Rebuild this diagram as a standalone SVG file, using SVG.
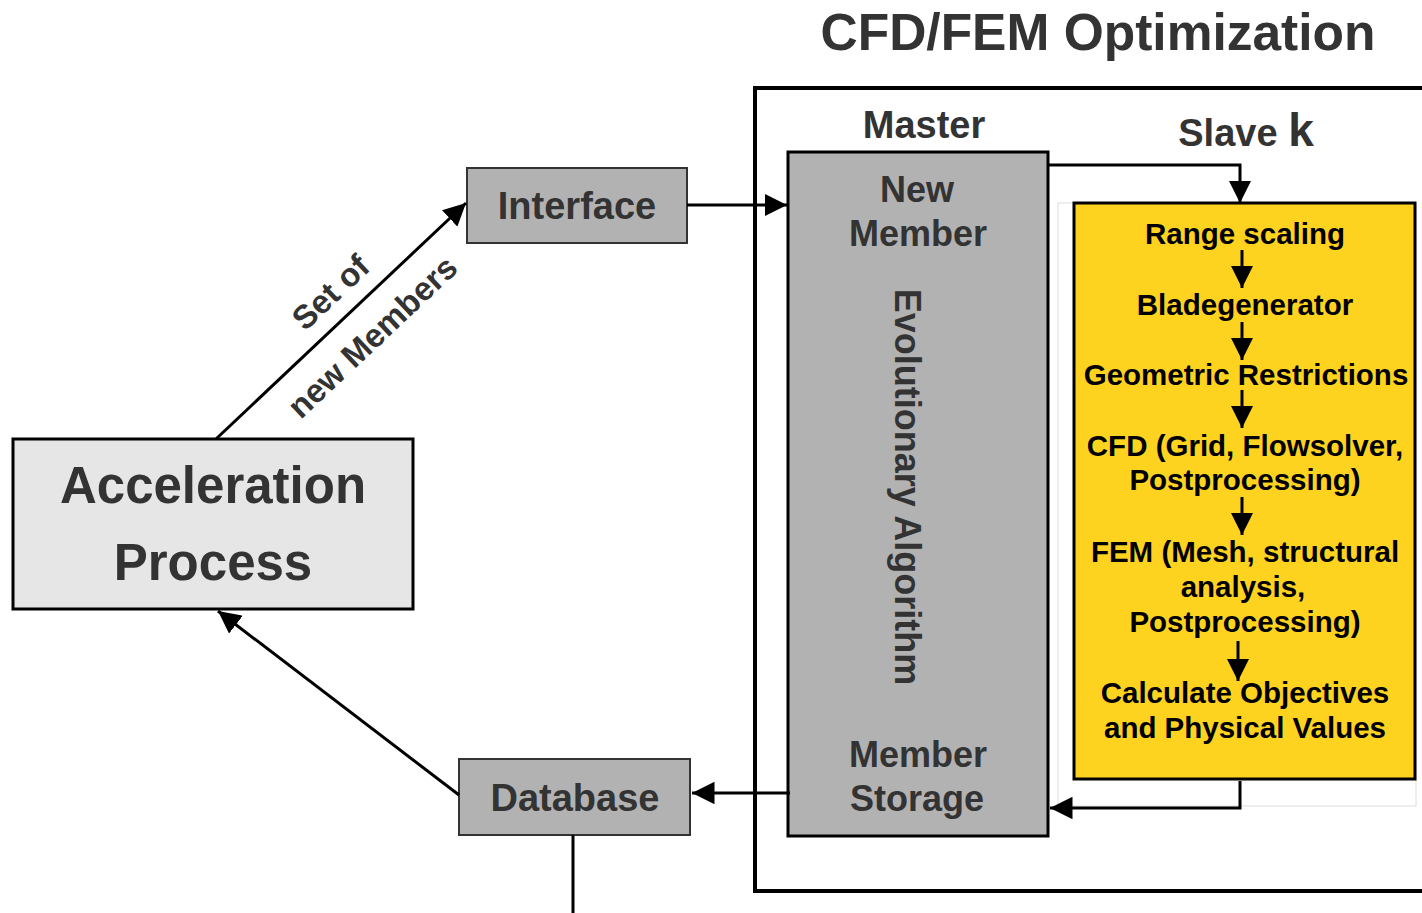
<svg xmlns="http://www.w3.org/2000/svg" width="1422" height="913" viewBox="0 0 1422 913">
<style>
.t{font-family:"Liberation Sans",Arial,sans-serif;font-weight:bold;fill:#333;text-anchor:middle}
.y{font-family:"Liberation Sans",Arial,sans-serif;font-weight:bold;fill:#000;text-anchor:middle;font-size:29.5px}
.ln{stroke:#000;stroke-width:3;fill:none}
.gb{fill:#b2b2b2;stroke:#333;stroke-width:2}
</style>
<defs>
<marker id="ah" viewBox="0 0 10 10" refX="10" refY="5" markerWidth="7.5" markerHeight="7.5" markerUnits="strokeWidth" orient="auto">
<path d="M0,0 L10,5 L0,10 z" fill="#000"/>
</marker>
</defs>
<rect width="1422" height="913" fill="#fff"/>
<text class="t" x="1098" y="50" font-size="51.5">CFD/FEM Optimization</text>
<g id="outer"><rect x="755" y="88" width="700" height="803" fill="none" stroke="#000" stroke-width="4"/></g>
<text class="t" x="924" y="138" font-size="38">Master</text>
<text class="t" x="1246" y="146" font-size="38">Slave <tspan font-size="46">k</tspan></text>
<g id="master">
<rect x="788" y="152" width="260" height="684" fill="#b2b2b2" stroke="#000" stroke-width="3"/>
<text class="t" x="917" y="202" font-size="36">New</text>
<text class="t" x="918" y="246" font-size="36">Member</text>
<text class="t" font-size="36" transform="translate(895,487) rotate(90)" x="0" y="0">Evolutionary Algorithm</text>
<text class="t" x="918" y="767" font-size="36">Member</text>
<text class="t" x="917" y="811" font-size="36">Storage</text>
</g>
<g id="slave">
<rect x="1058" y="203" width="358" height="603" fill="none" stroke="#ddd" stroke-width="1"/>
<rect x="1074" y="203" width="341" height="576" fill="#fed320" stroke="#000" stroke-width="3"/>
<text class="y" x="1245" y="244">Range scaling</text>
<text class="y" x="1245" y="315">Bladegenerator</text>
<text class="y" x="1246" y="385">Geometric Restrictions</text>
<text class="y" x="1245" y="456">CFD (Grid, Flowsolver,</text>
<text class="y" x="1245" y="490">Postprocessing)</text>
<text class="y" x="1245" y="562">FEM (Mesh, structural</text>
<text class="y" x="1243" y="597">analysis,</text>
<text class="y" x="1245" y="632">Postprocessing)</text>
<text class="y" x="1245" y="703">Calculate Objectives</text>
<text class="y" x="1245" y="738">and Physical Values</text>
<g class="ln" stroke-width="3">
<line x1="1242" y1="250" x2="1242" y2="288" marker-end="url(#ah)"/>
<line x1="1242" y1="322" x2="1242" y2="360" marker-end="url(#ah)"/>
<line x1="1242" y1="390" x2="1242" y2="428" marker-end="url(#ah)"/>
<line x1="1242" y1="497" x2="1242" y2="535" marker-end="url(#ah)"/>
<line x1="1238" y1="641" x2="1238" y2="681" marker-end="url(#ah)"/>
</g>
</g>
<g id="interface">
<rect class="gb" x="467" y="168" width="220" height="75"/>
<text class="t" x="577" y="219" font-size="38">Interface</text>
</g>
<g id="database">
<rect class="gb" x="459" y="759" width="231" height="76"/>
<text class="t" x="575" y="811" font-size="38">Database</text>
</g>
<g id="acceleration">
<rect x="13" y="439" width="400" height="170" fill="#e6e6e6" stroke="#000" stroke-width="3"/>
<text class="t" x="213" y="503" font-size="51">Acceleration</text>
<text class="t" x="213" y="580" font-size="51">Process</text>
</g>
<g id="connectors" class="ln">
<polyline points="1048,165 1240,165 1240,203" marker-end="url(#ah)"/>
<polyline points="1240,781 1240,808 1050,808" marker-end="url(#ah)"/>
<line x1="687" y1="205" x2="787" y2="205" marker-end="url(#ah)"/>
<line x1="790" y1="793" x2="692" y2="793" marker-end="url(#ah)"/>
<line x1="573" y1="835" x2="573" y2="913"/>
<line x1="216" y1="439" x2="466" y2="203" marker-end="url(#ah)"/>
<line x1="459" y1="795" x2="218" y2="611" marker-end="url(#ah)"/>
</g>
<g transform="translate(350,313) rotate(-43.35)">
<text class="t" x="0" y="-17" font-size="33">Set of</text>
<text class="t" x="0" y="44" font-size="33">new Members</text>
</g>
</svg>
